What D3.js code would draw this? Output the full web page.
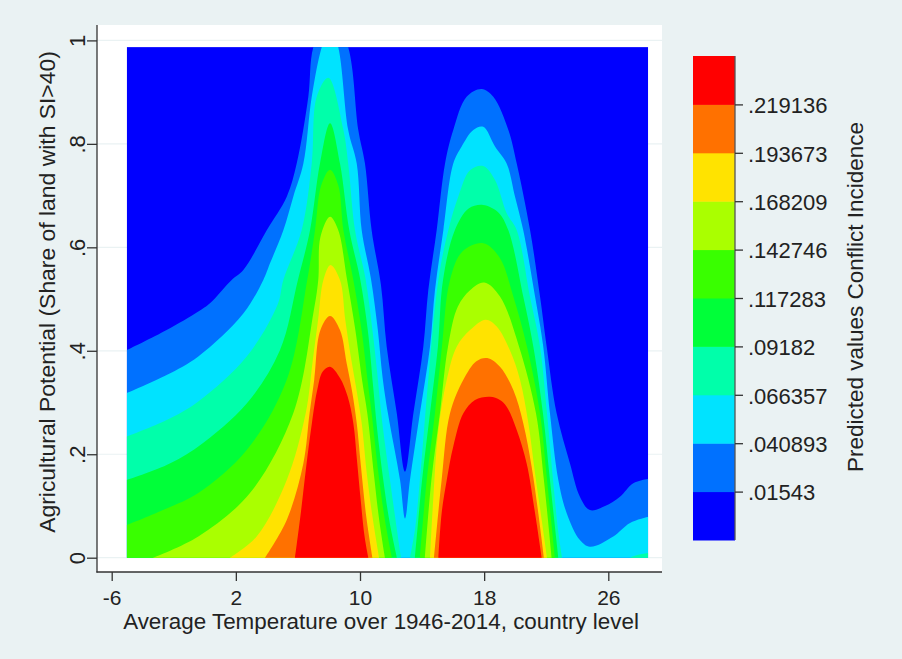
<!DOCTYPE html>
<html>
<head>
<meta charset="utf-8">
<script src="https://cdn.jsdelivr.net/npm/d3@7"></script>
<style>
  body { margin: 0; background: #eaf2f3; }
  svg { display: block; font-family: "Liberation Sans", Arial, sans-serif; }
</style>
</head>
<body>
<svg width="902" height="659"></svg>
<script>
// legend cut points (predicted conflict incidence)
var cuts = [0.01543, 0.040893, 0.066357, 0.09182, 0.117283, 0.142746, 0.168209, 0.193673, 0.219136];
var cutLabels = [".01543", ".040893", ".066357", ".09182", ".117283", ".142746", ".168209", ".193673", ".219136"];
// one colour per band, lowest band first
var bandColors = ["#0000ff", "#0071ff", "#00e3ff", "#00ffaa", "#00ff39", "#39ff00", "#aaff00", "#ffe300", "#ff7100", "#ff0000"];

var xTicks = [-6, 2, 10, 18, 26];
var yTicks = [0, 0.2, 0.4, 0.6, 0.8, 1];
var yTickLabels = ["0", ".2", ".4", ".6", ".8", "1"];

// extent of the fitted grid
var tempRange = [-5.03, 28.57];
var shareRange = [0, 0.987];

// contour lines, [temperature, share].
// each list is one piece of the region that lies above the cut (region is below the line)
var above01543 = [
  [[-5.03,0.401],[-2.46,0.440],[-0.42,0.476],[0.33,0.492],[1.73,0.537],[2.48,0.556],[3.99,0.633],[5.28,0.698],[5.92,0.762],[6.67,0.891],[6.99,0.987],[8.1,1.06],[9.24,0.987],[9.89,0.827],[10.32,0.762],[10.75,0.633],[11.35,0.527],[11.72,0.408],[12.37,0.279],[12.90,0.166],[13.44,0.279],[14.08,0.408],[14.40,0.517],[14.94,0.633],[15.48,0.762],[16.01,0.827],[16.87,0.891],[17.84,0.906],[18.59,0.891],[19.56,0.827],[20.10,0.762],[20.96,0.633],[21.60,0.505],[22.03,0.408],[22.67,0.279],[23.53,0.182],[24.17,0.118],[24.82,0.092],[25.79,0.100],[26.75,0.118],[27.61,0.144],[28.57,0.152]]
];
var above040893 = [
  [[-5.03,0.318],[-2.46,0.353],[-0.42,0.389],[2.48,0.472],[3.77,0.537],[4.20,0.569],[5.06,0.633],[5.70,0.698],[6.35,0.762],[6.89,0.891],[7.53,0.987],[8.07,1.03],[8.60,0.987],[9.24,0.827],[9.79,0.762],[10.11,0.633],[10.70,0.540],[11.15,0.440],[11.45,0.350],[11.80,0.279],[12.58,0.150],[12.90,0.076],[13.22,0.150],[13.86,0.279],[14.51,0.408],[14.83,0.517],[15.37,0.633],[16.01,0.762],[16.55,0.795],[17.30,0.827],[17.94,0.833],[18.70,0.795],[19.45,0.762],[19.99,0.698],[20.52,0.633],[21.28,0.505],[21.81,0.408],[22.24,0.279],[22.78,0.150],[23.32,0.086],[24.17,0.034],[24.82,0.021],[26.32,0.041],[27.40,0.067],[28.57,0.079]]
];
var above066357 = [
  [[-5.03,0.234],[-2.46,0.266],[-0.42,0.302],[2.70,0.389],[4.70,0.490],[5.06,0.537],[6.24,0.633],[6.89,0.762],[7.21,0.891],[7.96,0.928],[8.93,0.827],[9.24,0.762],[9.68,0.633],[10.35,0.540],[10.80,0.440],[11.10,0.360],[11.40,0.270],[11.93,0.150],[12.38,0.054],[12.64,0]],
  [[13.22,0],[13.54,0.054],[13.86,0.150],[14.40,0.344],[15.05,0.537],[15.69,0.633],[16.33,0.698],[17.09,0.749],[17.94,0.757],[18.70,0.730],[19.45,0.666],[20.10,0.633],[20.95,0.505],[21.60,0.408],[22.05,0.279],[22.44,0.150],[22.76,0.054],[23.02,0]],
  [[27.40,0],[28.0,0.006],[28.57,0.009]]
];
var above09182 = [
  [[-5.03,0.150],[-2.46,0.179],[-0.42,0.215],[2.70,0.298],[4.84,0.401],[6.00,0.537],[6.78,0.633],[7.42,0.762],[8.07,0.840],[8.71,0.762],[9.31,0.633],[10.00,0.540],[10.50,0.440],[10.85,0.330],[11.10,0.250],[11.50,0.150],[11.90,0.070],[12.38,0]],
  [[13.54,0],[14.00,0.150],[14.51,0.279],[15.02,0.408],[15.35,0.537],[16.11,0.633],[17.0,0.675],[17.93,0.682],[18.9,0.668],[19.56,0.633],[20.52,0.505],[21.17,0.408],[21.79,0.279],[22.24,0.150],[22.78,0]]
];
var above117283 = [
  [[-5.03,0.063],[-2.46,0.095],[-0.42,0.125],[2.70,0.208],[5.28,0.344],[6.60,0.537],[7.10,0.633],[7.50,0.720],[8.07,0.750],[8.60,0.720],[8.93,0.633],[9.55,0.540],[10.10,0.440],[10.50,0.340],[10.75,0.279],[11.20,0.160],[11.62,0.070],[12.06,0]],
  [[13.86,0],[14.30,0.150],[14.83,0.279],[15.28,0.408],[15.80,0.537],[16.6,0.592],[17.94,0.608],[19.0,0.580],[19.88,0.505],[20.76,0.408],[21.60,0.279],[22.05,0.150],[22.56,0]]
];
var above142746 = [
  [[-3.32,0],[-0.42,0.041],[2.91,0.125],[5.70,0.279],[6.99,0.472],[7.31,0.537],[7.45,0.620],[8.07,0.659],[8.60,0.633],[9.15,0.540],[9.70,0.440],[10.15,0.340],[10.47,0.279],[10.90,0.160],[11.25,0.070],[11.61,0]],
  [[14.18,0],[14.60,0.150],[15.15,0.279],[15.67,0.408],[16.30,0.485],[17.09,0.517],[18.0,0.532],[19.02,0.505],[20.25,0.408],[21.34,0.279],[21.85,0.150],[22.35,0]]
];
var above168209 = [
  [[1.62,0],[3.34,0.041],[5.28,0.150],[6.50,0.279],[6.95,0.380],[7.30,0.460],[7.64,0.537],[8.10,0.566],[8.71,0.537],[9.05,0.460],[9.40,0.390],[9.80,0.320],[10.11,0.260],[10.45,0.160],[10.80,0.080],[11.23,0]],
  [[14.51,0],[14.73,0.118],[15.05,0.247],[15.59,0.344],[16.23,0.408],[17.09,0.440],[18.10,0.460],[18.81,0.447],[19.66,0.401],[20.31,0.344],[20.85,0.260],[21.28,0.163],[21.71,0.073],[22.05,0]]
];
var above193673 = [
  [[3.88,0],[5.28,0.073],[6.35,0.182],[6.75,0.279],[7.05,0.344],[7.45,0.440],[8.07,0.467],[8.71,0.440],[9.14,0.376],[9.50,0.320],[9.79,0.260],[10.05,0.180],[10.40,0.080],[10.80,0]],
  [[14.77,0],[15.26,0.150],[15.80,0.279],[16.66,0.344],[17.5,0.380],[18.2,0.386],[19.02,0.369],[19.88,0.324],[20.52,0.260],[21.06,0.176],[21.49,0.086],[21.85,0]]
];
var above219136 = [
  [[5.81,0],[6.20,0.090],[6.55,0.180],[6.90,0.260],[7.25,0.325],[7.60,0.360],[8.07,0.369],[8.70,0.348],[9.20,0.312],[9.57,0.260],[9.80,0.190],[10.05,0.110],[10.30,0.040],[10.54,0]],
  [[15.05,0],[15.26,0.086],[15.59,0.150],[16.01,0.215],[16.66,0.279],[17.41,0.305],[18.38,0.311],[19.02,0.305],[19.45,0.292],[20.10,0.247],[20.74,0.182],[21.28,0.086],[21.71,0]]
];
var regions = [above01543, above040893, above066357, above09182, above117283, above142746, above168209, above193673, above219136];

var svg = d3.select("svg");
var ink = "#222";
var font = "Liberation Sans, Arial, sans-serif";

var x = d3.scaleLinear().domain([-6, 26]).range([111.7, 608.3]);
var y = d3.scaleLinear().domain([0, 1]).range([557.7, 40.4]);

// plot region
svg.append("rect").attr("x", 97).attr("y", 25).attr("width", 565).attr("height", 547).attr("fill", "white");

svg.selectAll(".grid").data(yTicks).enter().append("line")
  .attr("class", "grid")
  .attr("x1", 97).attr("x2", 662)
  .attr("y1", function(d) { return y(d); }).attr("y2", function(d) { return y(d); })
  .attr("stroke", "#eaf2f3").attr("stroke-width", 1.2);

svg.append("clipPath").attr("id", "grid-clip").append("rect")
  .attr("x", x(tempRange[0])).attr("y", y(shareRange[1]))
  .attr("width", x(tempRange[1]) - x(tempRange[0]))
  .attr("height", y(shareRange[0]) - y(shareRange[1]));

var cont = svg.append("g").attr("clip-path", "url(#grid-clip)");

// lowest band covers the whole grid
cont.append("rect")
  .attr("x", x(tempRange[0])).attr("y", y(shareRange[1]))
  .attr("width", x(tempRange[1]) - x(tempRange[0]))
  .attr("height", y(shareRange[0]) - y(shareRange[1]))
  .attr("fill", bandColors[0]);

var edge = d3.line()
  .x(function(d) { return x(d[0]); })
  .y(function(d) { return y(d[1]); })
  .curve(d3.curveCatmullRom.alpha(0.5));

function piecePath(p) {
  var a = p[0], b = p[p.length - 1];
  var base = y(0) + 3;
  return edge(p) + "L" + x(b[0]) + "," + base + "L" + x(a[0]) + "," + base + "Z";
}

regions.forEach(function(pieces, i) {
  cont.selectAll(".lev" + i).data(pieces).enter().append("path")
    .attr("class", "lev" + i)
    .attr("d", piecePath)
    .attr("fill", bandColors[i + 1]);
});

// axes
var xAxis = svg.append("g").attr("transform", "translate(0,572)")
  .call(d3.axisBottom(x).tickValues(xTicks).tickSize(9)
    .tickFormat(function(d) { return String(d); }));
xAxis.select(".domain").remove();
xAxis.selectAll("line").attr("stroke", "#333").attr("stroke-width", 1.3);
xAxis.selectAll("text").attr("y", 33).attr("dy", null)
  .attr("font-size", 21).attr("font-family", font).attr("fill", ink);

var yAxis = svg.append("g").attr("transform", "translate(97,0)")
  .call(d3.axisLeft(y).tickValues(yTicks).tickSize(10)
    .tickFormat(function(d, i) { return yTickLabels[i]; }));
yAxis.select(".domain").remove();
yAxis.selectAll("line").attr("stroke", "#333").attr("stroke-width", 1.3);
yAxis.selectAll("text")
  .attr("x", null).attr("dy", null)
  .attr("transform", "translate(-12,0) rotate(-90)")
  .attr("text-anchor", "middle")
  .attr("font-size", 22).attr("font-family", font).attr("fill", ink);

svg.append("line").attr("x1", 97).attr("x2", 97).attr("y1", 25).attr("y2", 572.6)
  .attr("stroke", "#333").attr("stroke-width", 1.3);
svg.append("line").attr("x1", 96.4).attr("x2", 662).attr("y1", 572).attr("y2", 572)
  .attr("stroke", "#333").attr("stroke-width", 1.3);

svg.append("text").attr("x", 381).attr("y", 629)
  .attr("text-anchor", "middle").attr("font-size", 22.4).attr("fill", ink)
  .text("Average Temperature over 1946-2014, country level");

svg.append("text").attr("transform", "translate(55,292) rotate(-90)")
  .attr("text-anchor", "middle").attr("font-size", 22.9).attr("fill", ink)
  .text("Agricultural Potential (Share of land with SI>40)");

// legend
var ly = d3.scaleLinear().domain([0, bandColors.length]).range([540, 56]);
var legend = svg.append("g");
legend.selectAll("rect").data(bandColors).enter().append("rect")
  .attr("x", 693).attr("width", 42)
  .attr("y", function(d, i) { return ly(i + 1); })
  .attr("height", function(d, i) { return ly(i) - ly(i + 1) + 0.5; })
  .attr("fill", function(d) { return d; });

var lAxis = legend.append("g").attr("transform", "translate(735,0)")
  .call(d3.axisRight(ly).tickValues(d3.range(1, cuts.length + 1)).tickSize(8)
    .tickFormat(function(d) { return cutLabels[d - 1]; }));
lAxis.select(".domain").attr("d", "M0," + ly(0) + "V" + ly(bandColors.length))
  .attr("stroke", "#555").attr("stroke-width", 1.3);
lAxis.selectAll("line").attr("stroke", "#333").attr("stroke-width", 1.3);
lAxis.selectAll("text").attr("x", 13).attr("dy", "0.38em")
  .attr("font-size", 22).attr("font-family", font).attr("fill", ink);

svg.append("text").attr("transform", "translate(863,297) rotate(-90)")
  .attr("text-anchor", "middle").attr("font-size", 22.5).attr("fill", ink)
  .text("Predicted values Conflict Incidence");
</script>
</body>
</html>
